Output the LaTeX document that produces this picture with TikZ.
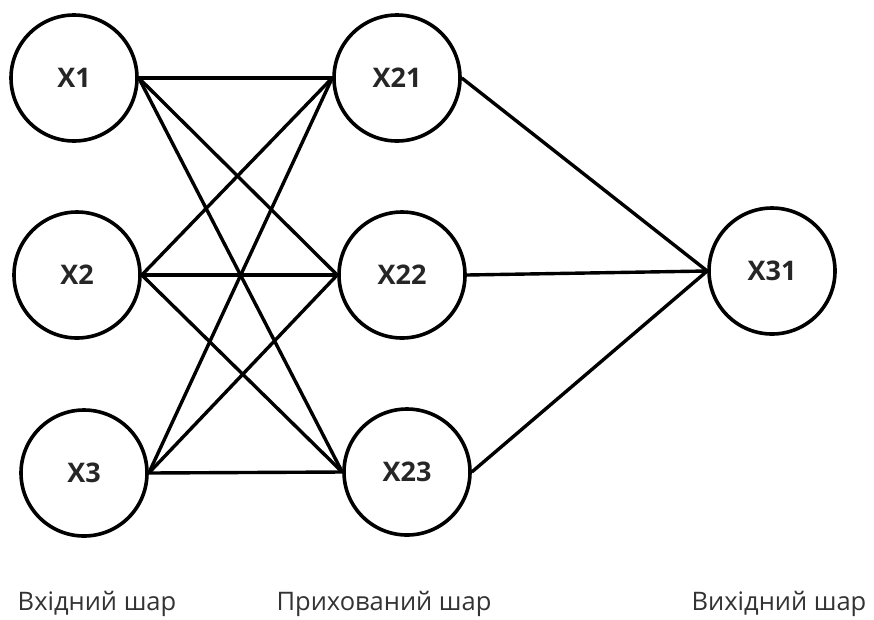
\documentclass[tikz,border=0pt]{standalone}
\usepackage{fontspec}
\setmainfont{Open Sans}
\begin{document}
\begin{tikzpicture}[x=1pt,y=-1pt,
  neuron/.style={circle,draw=black,line width=3.6pt,minimum size=126pt,inner sep=0pt,
    font=\fontsize{27}{30}\selectfont\bfseries,text=black!85},
  link/.style={draw=black,line width=3.4pt},
  layername/.style={anchor=base,font=\fontsize{25.5}{29}\selectfont,text=black!80}]
\useasboundingbox (0,0) rectangle (874,619);
\fill[white] (0,0) rectangle (874,619);

% input layer
\node[neuron] (x1) at (74,78) {X1};
\node[neuron] (x2) at (77,275) {X2};
\node[neuron] (x3) at (84,473) {X3};
% hidden layer
\node[neuron] (x21) at (397,78) {X21};
\node[neuron] (x22) at (402,275) {X22};
\node[neuron] (x23) at (407,472) {X23};
% output layer
\node[neuron] (x31) at (772,271) {X31};

% input -> hidden
\foreach \a in {x1,x2,x3}
  \foreach \b in {x21,x22,x23}
    \draw[link] (\a.east) -- (\b.west);
% hidden -> output
\foreach \b in {x21,x22,x23}
  \draw[link] (\b.east) -- (x31.west);

% layer captions
\node[layername] (lin) at (97,610) {Вхідний шар};
\node[layername] (lhid) at (384,610) {Прихований шар};
\node[layername] (lout) at (779,610) {Вихідний шар};
\end{tikzpicture}
\end{document}
